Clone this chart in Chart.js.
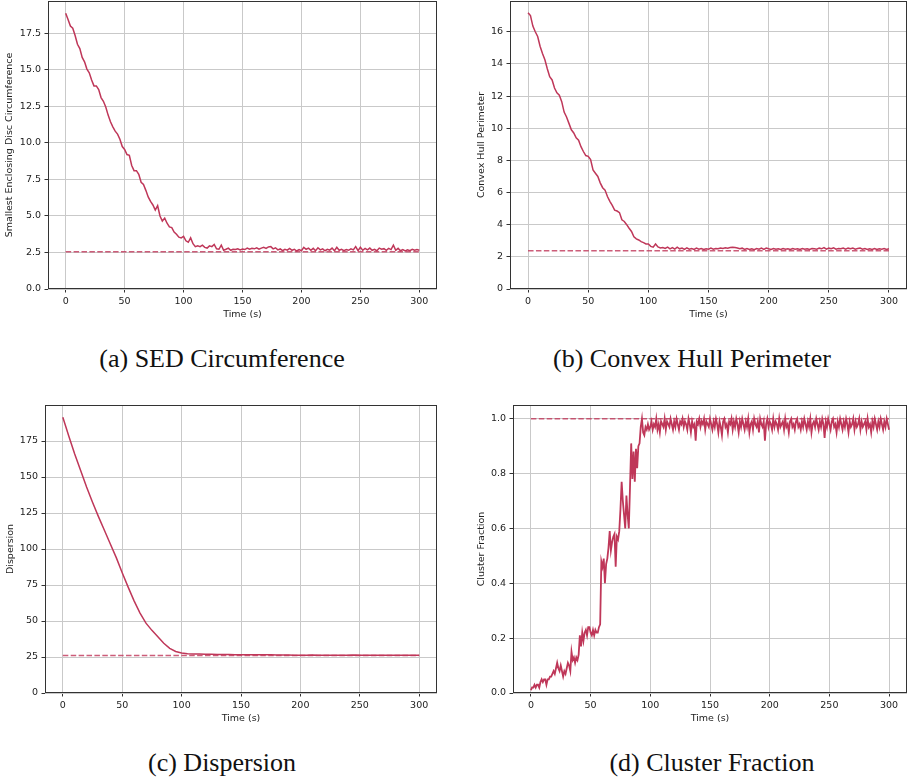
<!DOCTYPE html>
<html><head><meta charset="utf-8">
<script src="https://cdn.jsdelivr.net/npm/chart.js@4"></script>
<style>
html,body{margin:0;padding:0;background:#fff;}
body{width:908px;height:778px;position:relative;overflow:hidden;}
canvas{position:absolute;}
.cap{position:absolute;font-family:'Liberation Serif',serif;font-size:26px;line-height:1;color:#111;white-space:nowrap;transform:translate(-50%,-50%);}
</style></head><body>
<canvas id="ca" width="445" height="324" style="left:0px;top:0px"></canvas>
<canvas id="cb" width="438" height="324" style="left:470px;top:0px"></canvas>
<canvas id="cc" width="445" height="333" style="left:0px;top:395px"></canvas>
<canvas id="cd" width="438" height="333" style="left:470px;top:395px"></canvas>
<div class="cap" style="left:222px;top:359px">(a) SED Circumference</div>
<div class="cap" style="left:692px;top:359px">(b) Convex Hull Perimeter</div>
<div class="cap" style="left:222px;top:763px">(c) Dispersion</div>
<div class="cap" style="left:712px;top:763px">(d) Cluster Fraction</div>
<script>
// ---------- data ----------
const timeTicks = [0, 50, 100, 150, 200, 250, 300];

const sedStep = 2;
const sedValues = [18.87,18.45,18.0,17.85,17.35,16.75,16.45,15.85,15.55,15.05,
14.8,14.3,13.9,13.9,13.65,13.1,12.85,12.45,11.9,11.45,
11.1,10.8,10.6,10.25,9.75,9.55,9.2,9.15,8.45,8.1,
8.1,7.85,7.3,7.15,6.75,6.3,6.0,5.75,5.4,5.7,
5.0,4.65,4.85,4.5,4.25,4.2,3.9,3.75,3.55,3.5,
3.6,3.3,3.2,3.5,3.1,2.9,2.95,2.9,3.0,2.85,
2.8,2.95,2.9,3.05,2.75,2.72,3.0,2.65,2.72,2.8,
2.65,2.72,2.7,2.75,2.68,2.74,2.7,2.8,2.72,2.78,
2.75,2.82,2.72,2.8,2.85,2.78,2.88,2.9,2.75,2.82,
2.68,2.74,2.62,2.72,2.66,2.78,2.65,2.72,2.6,2.7,
2.62,2.85,2.72,2.8,2.65,2.78,2.62,2.82,2.68,2.75,
2.62,2.72,2.66,2.8,2.62,2.85,2.65,2.72,2.62,2.7,
2.65,2.75,2.68,2.9,2.62,2.85,2.65,2.78,2.68,2.8,
2.65,2.72,2.62,2.8,2.72,2.76,2.65,2.78,2.7,3.0,
2.65,2.78,2.62,2.7,2.6,2.68,2.62,2.72,2.65,2.7,2.65];
const sedTarget = 2.55;
const sedTicks = [0, 2.5, 5, 7.5, 10, 12.5, 15, 17.5];

const hullStep = 2;
const hullValues = [17.18,17.0,16.35,16.0,15.7,15.1,14.65,14.25,13.7,13.2,
13.0,12.5,12.2,12.05,11.65,11.0,10.7,10.3,9.9,9.7,
9.4,9.25,8.85,8.55,8.3,8.25,8.05,7.4,7.2,7.0,
6.6,6.3,6.15,5.75,5.45,5.2,4.9,4.85,4.75,4.3,
4.2,4.0,3.78,3.58,3.25,3.12,3.05,2.95,2.88,2.8,
2.8,2.65,2.6,2.8,2.62,2.55,2.58,2.52,2.6,2.5,
2.58,2.48,2.6,2.5,2.55,2.46,2.56,2.48,2.52,2.46,
2.54,2.48,2.52,2.46,2.5,2.48,2.54,2.48,2.52,2.5,
2.55,2.52,2.56,2.54,2.58,2.6,2.58,2.55,2.5,2.54,
2.46,2.52,2.46,2.5,2.45,2.52,2.48,2.54,2.46,2.55,
2.5,2.46,2.52,2.48,2.5,2.46,2.52,2.48,2.5,2.46,
2.52,2.48,2.5,2.46,2.52,2.48,2.5,2.46,2.52,2.5,
2.48,2.54,2.5,2.58,2.48,2.54,2.5,2.56,2.48,2.52,
2.5,2.55,2.48,2.54,2.5,2.55,2.48,2.52,2.55,2.48,
2.52,2.46,2.5,2.46,2.52,2.46,2.5,2.48,2.52,2.46,2.5];
const hullTarget = 2.38;
const hullTicks = [0, 2, 4, 6, 8, 10, 12, 14, 16];

const dispStep = 5;
const dispValues = [191.5,178.5,166,154.5,143,132.5,122.5,113,103.5,94,
83.5,73.5,64,55.5,48.5,43.5,39,34.5,31,28.8,
27.8,27.3,27.1,27.0,26.9,26.9,26.8,26.8,26.7,26.6,
26.6,26.5,26.5,26.5,26.6,26.5,26.4,26.4,26.4,26.3,
26.3,26.3,26.4,26.3,26.3,26.3,26.2,26.3,26.3,26.4,
26.3,26.3,26.3,26.2,26.3,26.3,26.3,26.2,26.3,26.3,26.3];
const dispTarget = 26.0;
const dispTicks = [0, 25, 50, 75, 100, 125, 150, 175];

const clusStep = 1;
const clusValues = [
0.01,0.02,0.02,0.03,0.02,0.03,0.03,0.02,0.04,0.05,
0.04,0.05,0.05,0.03,0.05,0.05,0.06,0.06,0.07,0.08,
0.07,0.09,0.11,0.09,0.08,0.10,0.08,0.06,0.08,0.07,
0.09,0.11,0.10,0.08,0.15,0.12,0.13,0.11,0.13,0.12,
0.14,0.21,0.17,0.22,0.19,0.22,0.23,0.21,0.24,0.24,
0.22,0.21,0.23,0.21,0.23,0.22,0.22,0.24,0.25,0.48,
0.46,0.49,0.40,0.47,0.49,0.53,0.59,0.52,0.55,0.57,
0.58,0.46,0.57,0.56,0.59,0.67,0.77,0.70,0.65,0.60,
0.72,0.65,0.60,0.75,0.91,0.78,0.88,0.77,0.89,0.82,
0.90,0.91,0.97,1.00,0.95,0.94,0.97,0.96,0.98,0.96,
0.97,0.99,0.96,0.98,0.97,1.00,0.96,0.98,0.95,0.99,
0.98,0.97,1.00,0.96,0.99,0.98,0.97,1.00,0.98,0.96,
0.99,0.97,1.00,0.98,0.96,0.99,0.98,1.00,0.97,0.99,
0.98,0.96,1.00,0.98,0.95,0.99,0.97,0.98,0.92,0.99,
0.98,1.00,0.97,0.99,0.98,1.00,0.96,0.99,0.98,0.97,
1.00,0.98,0.96,0.99,0.97,1.00,0.98,0.95,0.99,0.97,
0.94,0.99,1.00,0.97,0.98,0.95,0.99,0.98,1.00,0.96,
0.99,0.97,1.00,0.98,0.95,0.99,0.97,1.00,0.98,0.96,
0.99,0.97,1.00,0.95,0.98,0.99,0.96,1.00,0.98,0.97,
0.99,0.95,1.00,0.98,0.97,0.99,0.92,0.98,1.00,0.97,
0.99,0.98,0.96,1.00,0.97,0.99,0.98,0.96,1.00,0.97,
0.98,0.99,0.96,1.00,0.97,0.98,0.95,0.99,1.00,0.97,
0.98,0.96,0.99,1.00,0.97,0.98,0.96,0.99,0.97,1.00,
0.98,0.96,0.99,0.97,1.00,0.95,0.98,0.99,0.97,1.00,
0.98,0.96,0.99,0.97,1.00,0.98,0.93,0.99,0.97,1.00,
0.98,0.96,0.99,1.00,0.97,0.98,0.95,0.99,0.97,1.00,
0.98,0.96,0.99,0.97,1.00,0.98,0.95,0.99,0.97,0.98,
1.00,0.96,0.99,0.97,0.98,1.00,0.96,0.99,0.97,0.98,
0.99,0.96,1.00,0.97,0.98,0.95,0.99,0.97,1.00,0.98,
0.96,0.99,0.97,1.00,0.98,0.96,0.99,0.97,1.00,0.98,
0.96];
const clusTarget = 1.0;
const clusTicks = [0, 0.2, 0.4, 0.6, 0.8, 1.0];

// ---------- styling ----------
const lineColor = '#bf3759';
const dashColor = 'rgba(193,57,92,0.82)';
const gridColor = '#c9c9c9';
const textColor = '#222';
const fontFamily = "'DejaVu Sans', sans-serif";
const fontSize = 9.5;

function pts(step, vals) { return vals.map((v, i) => ({ x: i * step, y: v })); }

const boxPlugin = {
  id: 'box',
  afterDraw(chart) {
    const a = chart.chartArea, c = chart.ctx;
    c.save();
    c.strokeStyle = '#333';
    c.lineWidth = 1;
    const l = Math.round(a.left) + 0.5, t = Math.round(a.top) + 0.5;
    const r = Math.round(a.right) - 0.5, b = Math.round(a.bottom) - 0.5;
    c.strokeRect(l, t, r - l, b - t);
    c.restore();
  }
};

function makeChart(id, g, d) {
  new Chart(document.getElementById(id), {
    type: 'line',
    data: {
      datasets: [
        { data: pts(d.step, d.values), borderColor: lineColor, borderWidth: d.lw,
          pointRadius: 0, tension: 0, fill: false },
        { data: [{ x: 0, y: d.target }, { x: 300, y: d.target }], borderColor: dashColor,
          borderWidth: 1.5, borderDash: [5.5, 2.4], pointRadius: 0, fill: false }
      ]
    },
    options: {
      responsive: false, animation: false, devicePixelRatio: 1,
      layout: { padding: { left: 0, top: g.padTop, right: g.padRight, bottom: 0 } },
      plugins: { legend: { display: false }, tooltip: { enabled: false } },
      scales: {
        x: {
          type: 'linear', min: -15, max: 315,
          afterBuildTicks: s => { s.ticks = timeTicks.map(v => ({ value: v })); },
          afterFit: s => { s.height = 35; s.paddingLeft = 0; s.paddingRight = 0; },
          grid: { color: gridColor, lineWidth: 1, tickLength: 3.5, tickColor: '#333', drawTicks: true },
          border: { display: false },
          ticks: { font: { family: fontFamily, size: fontSize }, color: textColor, padding: 3,
                   maxRotation: 0, autoSkip: false, callback: v => String(v) },
          title: { display: true, text: 'Time (s)', font: { family: fontFamily, size: fontSize },
                   color: textColor, padding: { top: 0, bottom: 4 } }
        },
        y: {
          type: 'linear', min: 0, max: d.ymax,
          afterBuildTicks: s => { s.ticks = d.ticks.map(v => ({ value: v })); },
          afterFit: s => { s.width = g.yWidth; s.paddingTop = 0; s.paddingBottom = 0; },
          grid: { color: gridColor, lineWidth: 1, tickLength: 3.5, tickColor: '#333', drawTicks: true },
          border: { display: false },
          ticks: { font: { family: fontFamily, size: fontSize }, color: textColor, padding: 3.5,
                   autoSkip: false, callback: v => v.toFixed(d.dec) },
          title: { display: true, text: d.ylabel, font: { family: fontFamily, size: fontSize },
                   color: textColor, padding: { top: g.titlePad, bottom: 0 } }
        }
      }
    },
    plugins: [boxPlugin]
  });
}

makeChart('ca', { padTop: 1, padRight: 8, yWidth: 48, titlePad: 4.3 },
  { step: sedStep, values: sedValues, target: sedTarget, ticks: sedTicks, ymax: 19.71, dec: 1, lw: 1.5,
    ylabel: 'Smallest Enclosing Disc Circumference' });
makeChart('cb', { padTop: 1, padRight: 1, yWidth: 40, titlePad: 5.6 },
  { step: hullStep, values: hullValues, target: hullTarget, ticks: hullTicks, ymax: 17.91, dec: 0, lw: 1.5,
    ylabel: 'Convex Hull Perimeter' });
makeChart('cc', { padTop: 10, padRight: 8, yWidth: 45, titlePad: 5.3 },
  { step: dispStep, values: dispValues, target: dispTarget, ticks: dispTicks, ymax: 200, dec: 0, lw: 1.5,
    ylabel: 'Dispersion' });
makeChart('cd', { padTop: 10, padRight: 1, yWidth: 43, titlePad: 5.6 },
  { step: clusStep, values: clusValues, target: clusTarget, ticks: clusTicks, ymax: 1.05, dec: 1, lw: 1.8,
    ylabel: 'Cluster Fraction' });
</script>
</body></html>
